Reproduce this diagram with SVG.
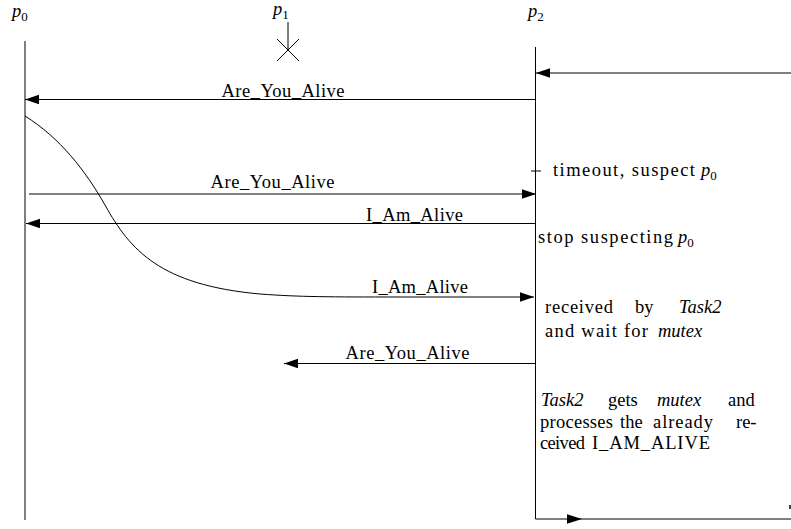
<svg xmlns="http://www.w3.org/2000/svg" width="791" height="529" viewBox="0 0 791 529">
<style>
text{font-family:'Liberation Serif','DejaVu Serif',serif;font-size:18.5px;fill:#000}
.i{font-style:italic}
.s{font-size:13px}
.ln{stroke:#000;stroke-width:1;fill:none}
</style>
<defs>
<marker id="ah" markerUnits="userSpaceOnUse" markerWidth="14" markerHeight="10" refX="14" refY="4.75" orient="auto">
<path d="M0,0 L14,4.75 L0,9.5 z" fill="#000"/>
</marker>
</defs>
<rect width="791" height="529" fill="#fff"/>

<g id="p0">
<line class="ln" x1="25" y1="41" x2="25" y2="520"/>
<text x="12" y="16.5"><tspan class="i">p</tspan><tspan class="s" dy="4">0</tspan></text>
</g>

<g id="p1">
<line class="ln" x1="288" y1="22" x2="288" y2="50"/>
<line class="ln" x1="277" y1="39" x2="299" y2="61"/>
<line class="ln" x1="299" y1="39" x2="277" y2="61"/>
<text x="273" y="15"><tspan class="i">p</tspan><tspan class="s" dy="3.5">1</tspan></text>
</g>

<g id="p2">
<line class="ln" x1="535.5" y1="47" x2="535.5" y2="519"/>
<line class="ln" x1="535.5" y1="519" x2="791" y2="519"/>
<polygon points="567,514.25 582,519 567,523.75" fill="#000"/>
<line class="ln" x1="531" y1="171" x2="541" y2="171"/>
<line x1="790" y1="505" x2="790" y2="509" stroke="#000" stroke-width="1.5"/>
<text x="528" y="16.5"><tspan class="i">p</tspan><tspan class="s" dy="4">2</tspan></text>
</g>

<g id="connectors">
<line class="ln" x1="791" y1="73" x2="536" y2="73" marker-end="url(#ah)"/>
<line class="ln" x1="535" y1="99.5" x2="25" y2="99.5" marker-end="url(#ah)"/>
<line class="ln" x1="29" y1="194" x2="536" y2="194" marker-end="url(#ah)"/>
<line class="ln" x1="535" y1="223.5" x2="26" y2="223.5" marker-end="url(#ah)"/>
<path class="ln" d="M25,116 C60,138 85,170 105,205 C130,250 160,285 260,294 C300,297 330,297 400,297 L534,297" marker-end="url(#ah)"/>
<line class="ln" x1="535" y1="363.5" x2="284" y2="363.5" marker-end="url(#ah)"/>
</g>

<g id="labels">
<text x="221.5" y="96.5" textLength="123">Are_You_Alive</text>
<text x="210.5" y="188" textLength="124">Are_You_Alive</text>
<text x="366" y="220.5" textLength="97">I_Am_Alive</text>
<text x="372" y="292.5" textLength="96">I_Am_Alive</text>
<text x="345.5" y="358.5" textLength="124">Are_You_Alive</text>
</g>

<g id="notes">
<text x="553" y="176" textLength="142">timeout, suspect</text>
<text x="701" y="176"><tspan class="i">p</tspan><tspan class="s" dy="4">0</tspan></text>

<text x="538" y="243" textLength="135">stop suspecting</text>
<text x="678" y="243"><tspan class="i">p</tspan><tspan class="s" dy="4">0</tspan></text>

<text x="545" y="313" textLength="68">received</text>
<text x="635" y="313">by</text>
<text class="i" x="679" y="313">Task2</text>
<text x="545" y="337" textLength="103">and wait for</text>
<text class="i" x="658" y="337">mutex</text>

<text class="i" x="541" y="405.5">Task2</text>
<text x="608" y="405.5">gets</text>
<text class="i" x="657" y="405.5">mutex</text>
<text x="728" y="405.5">and</text>
<text x="540" y="427.5" textLength="73">processes</text>
<text x="620" y="427.5">the</text>
<text x="653" y="427.5" textLength="60">already</text>
<text x="736" y="427.5">re-</text>
<text x="540" y="449" textLength="45">ceived</text>
<text x="592" y="449" textLength="118">I_AM_ALIVE</text>
</g>
</svg>
